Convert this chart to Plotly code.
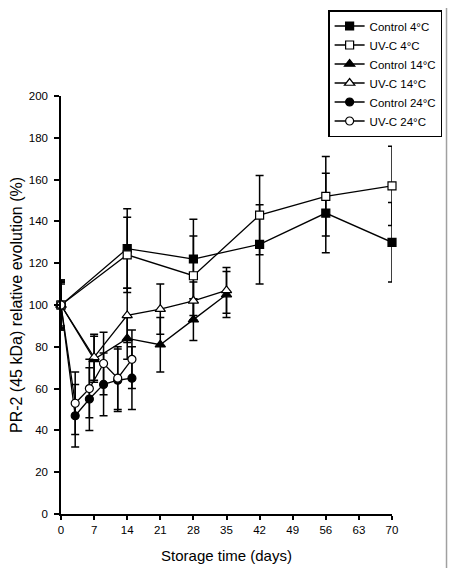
import plotly.graph_objects as go

# ---- data ----
days_4 = [0, 14, 28, 42, 56, 70]
control_4 = [100, 127, 122, 129, 144, 130]
control_4_err = [11, 19, 19, 19, 19, 19]
uvc_4 = [100, 124, 114, 143, 152, 157]
uvc_4_err = [12, 18, 19, 19, 19, 19]

days_14 = [0, 7, 14, 21, 28, 35]
control_14 = [100, 74, 84, 81, 93, 105]
control_14_err = [10, 11, 10, 13, 10, 11]
uvc_14 = [100, 75, 95, 98, 102, 107]
uvc_14_err = [11, 11, 13, 12, 9, 11]

days_24 = [0, 3, 6, 9, 12, 15]
control_24 = [100, 47, 55, 62, 64, 65]
control_24_err = [11, 15, 15, 15, 15, 15]
uvc_24 = [100, 53, 60, 72, 65, 74]
uvc_24_err = [12, 15, 14, 15, 15, 14]

x_ticks = [0, 7, 14, 21, 28, 35, 42, 49, 56, 63, 70]
y_ticks = [0, 20, 40, 60, 80, 100, 120, 140, 160, 180, 200]

series = [
    ("Control 4°C", days_4, control_4, control_4_err, "square", "black", 8),
    ("UV-C 4°C", days_4, uvc_4, uvc_4_err, "square", "white", 8),
    ("Control 14°C", days_14, control_14, control_14_err, "triangle-up", "black", 9),
    ("UV-C 14°C", days_14, uvc_14, uvc_14_err, "triangle-up", "white", 9),
    ("Control 24°C", days_24, control_24, control_24_err, "circle", "black", 8),
    ("UV-C 24°C", days_24, uvc_24, uvc_24_err, "circle", "white", 8),
]

FONT = "Liberation Sans, Arial, sans-serif"

fig = go.Figure()
for name, xs, ys, errs, sym, fill, size in series:
    fig.add_trace(go.Scatter(
        x=xs, y=ys, name=name, mode="lines+markers", cliponaxis=False,
        line=dict(color="black", width=1.3),
        marker=dict(symbol=sym, size=size, color=fill,
                    line=dict(color="black", width=1.2)),
        error_y=dict(type="data", array=errs, symmetric=True,
                     color="black", thickness=1.5, width=4),
    ))

fig.update_layout(
    width=449, height=560,
    margin=dict(l=53, r=65, t=88, b=54, autoexpand=False),
    paper_bgcolor="white", plot_bgcolor="white",
    font=dict(family=FONT, size=11.5, color="black"),
    showlegend=True,
    legend=dict(
        x=0.807, y=1.2057, xanchor="left", yanchor="top",
        bordercolor="black", borderwidth=1.5, bgcolor="white",
        font=dict(family=FONT, size=11.5, color="black"),
        tracegroupgap=0, itemwidth=30,
    ),
    xaxis=dict(
        range=[0, 70], tickvals=x_ticks, ticktext=[str(v) for v in x_ticks],
        showgrid=False, zeroline=False, showline=True, linecolor="black",
        linewidth=1.5, ticks="outside", ticklen=4, tickwidth=1.5,
        tickcolor="black", tickfont=dict(size=11.5),
        title=dict(text="Storage time (days)", font=dict(size=15), standoff=16),
        automargin=False,
    ),
    yaxis=dict(
        range=[0, 200], tickvals=y_ticks, ticktext=[str(v) for v in y_ticks],
        showgrid=False, zeroline=False, showline=True, linecolor="black",
        linewidth=1.5, ticks="outside", ticklen=5, tickwidth=1.5,
        tickcolor="black", tickfont=dict(size=11.5), ticklabelstandoff=4,
        title=dict(text="PR-2 (45 kDa) relative evolution (%)",
                   font=dict(size=16), standoff=6),
        automargin=False,
    ),
    shapes=[
        dict(type="line", xref="paper", yref="paper",
             x0=1.1647, x1=1.1647, y0=1.25, y1=-0.15,
             line=dict(color="#a0a0a0", width=1.5)),
    ],
)

fig.write_html("out.html")
